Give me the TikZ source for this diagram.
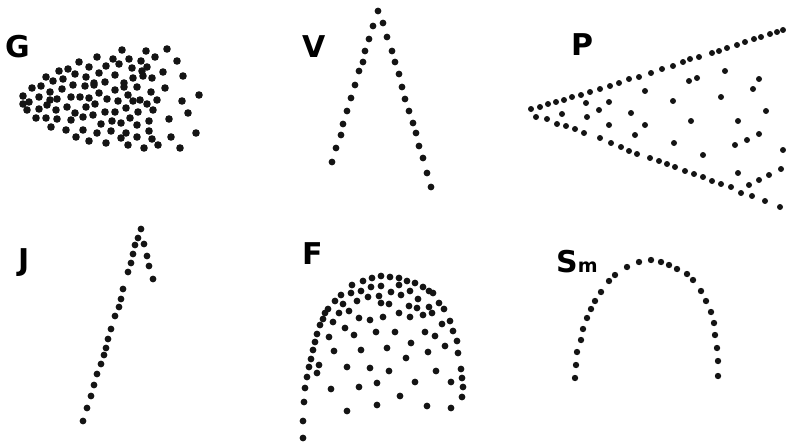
\documentclass[tikz,border=0pt]{standalone}
\usepackage{fontspec}
\setmainfont{DejaVu Sans}
\usepackage{tikz}

\begin{document}
\begin{tikzpicture}[x=1pt, y=-1pt,
    every node/.style={font=\fontsize{30}{30}\selectfont\bfseries, inner sep=0pt, anchor=base west},
    blob/.style={fill=black!92}]
    \useasboundingbox (0,0) rectangle (786,444);
    % panel labels
    \node (labG) at (5,57) {G};
    \node (labV) at (302,57) {V};
    \node (labP) at (571,56) {P};
    \node (labJ) at (18,270) {J};
    \node (labF) at (302,264) {F};
    \node (labS) at (556,272) {S{\fontsize{19}{19}\selectfont m}};
    % G: blunt cloud, denser on the left
    \foreach \x/\y in {122/50, 146/51, 167/49,
        79/62, 97/57, 113/59, 129/59, 141/61, 155/57, 177/61,
        59/71, 68/69, 75/74, 89/67, 99/73, 106/66, 119/64, 132/68, 142/71, 147/67, 163/72, 183/76,
        46/77, 53/81, 63/79, 73/85, 86/77, 94/83, 105/82, 115/75, 124/83, 133/78, 143/76, 152/78,
        32/88, 41/86, 50/92, 62/89, 85/86, 94/85, 99/93, 115/90, 124/87, 137/87, 151/92, 165/88,
        23/96, 39/97, 50/100, 57/99, 71/97, 80/97, 89/98, 107/99, 118/101, 128/95, 133/101, 140/100, 147/104, 157/100, 182/101, 199/95,
        23/104, 29/102, 27/110, 39/109, 47/105, 56/110, 67/107, 75/113, 86/107, 95/104, 105/112, 115/112, 126/108, 138/112, 153/110,
        36/118, 46/118, 57/119, 71/120, 83/117, 93/115, 101/124, 112/121, 121/123, 130/118, 137/125, 149/121, 169/119, 188/113,
        51/127, 66/130, 83/130, 97/133, 111/131, 126/133, 137/137, 149/131,
        76/137, 89/141, 106/143, 121/138, 128/145, 144/148, 158/145, 152/139, 171/137, 180/148, 196/133}
      \fill[blob] (\x,\y) circle[radius=3.8pt];
    % V: two rows of dots meeting at the top
    \foreach \x/\y in {332/162, 336/148, 341/135, 343/124, 347/111, 351/98, 355/85, 359/71, 363/62, 365/51, 369/39, 373/26, 378/11,
        383/23, 387/37, 392/51, 395/62, 399/74, 402/87, 405/99, 409/111, 413/123, 416/133, 419/146, 423/158, 427/173, 431/187}
      \fill[blob] (\x,\y) circle[radius=3.4pt];
    % P: wedge with loose dots inside
    \foreach \x/\y in {531/109, 540/107, 548/104, 556/102, 564/100, 572/97, 581/95, 590/92, 600/89, 610/86, 619/83, 629/79, 639/77,
        651/73, 662/69, 673/66, 683/62, 690/59, 699/57, 712/53, 719/51, 727/48, 737/45, 745/42, 754/39, 761/37, 770/34, 777/32, 783/30}
      \fill[blob] (\x,\y) circle[radius=3pt];
    \foreach \x/\y in {536/117, 547/119, 557/124, 566/126, 575/129, 584/133, 600/138, 611/143, 621/147, 629/151, 637/154, 650/158,
        659/161, 667/164, 675/167, 685/171, 694/174, 703/177, 712/181, 721/184, 731/187, 741/193, 752/196, 765/201, 780/207}
      \fill[blob] (\x,\y) circle[radius=3pt];
    \foreach \x/\y in {562/114, 586/103, 587/117, 599/110, 609/102, 609/125, 631/113, 635/135, 645/125, 645/91, 673/101, 674/143,
        689/81, 697/78, 691/121, 703/155, 725/71, 721/97, 738/121, 735/145, 747/140, 759/134, 753/89, 759/79, 766/111,
        738/173, 749/185, 759/180, 769/175, 781/169, 783/150}
      \fill[blob] (\x,\y) circle[radius=3pt];
    % J: long row with a short hook at the top
    \foreach \x/\y in {141/229, 138/238, 135/245, 133/254, 131/263, 128/272, 123/289, 121/299, 119/307, 115/316, 111/329, 108/339,
        106/348, 104/355, 101/364, 97/374, 94/385, 91/396, 87/408, 83/421,
        144/244, 147/256, 149/266, 153/279}
      \fill[blob] (\x,\y) circle[radius=3.4pt];
    % F: dome, crowded under the rim
    \foreach \x/\y in {303/438, 303/421, 304/402, 305/388, 307/377, 309/367, 311/359, 313/350, 315/342, 317/334, 320/325, 323/319,
        328/309, 335/301, 341/295, 352/285, 363/281, 372/278, 381/276, 390/277, 399/278, 407/281, 415/283, 423/287, 429/291,
        433/293, 439/303, 444/309, 450/321, 453/331, 457/341, 458/353, 461/369, 462/378, 463/387, 462/397}
      \fill[blob] (\x,\y) circle[radius=3.4pt];
    \foreach \x/\y in {319/365, 317/373, 331/389, 347/411, 359/387, 377/383, 377/405, 400/396, 415/382, 427/406, 451/408, 451/382,
        436/371, 389/371, 370/368, 347/367, 334/351, 361/350, 387/348, 406/358, 411/343, 428/352, 445/346, 435/336, 425/332,
        395/332, 376/332, 354/335, 329/337, 345/328, 359/318, 370/320, 383/317, 399/313, 410/317, 423/315, 432/313, 442/324,
        339/313, 349/311, 333/322, 325/313, 343/304, 357/301, 368/297, 379/296, 381/303, 389/304, 391/292, 401/295, 409/306,
        417/308, 418/299, 429/307, 351/293, 361/291, 371/287, 381/286, 399/285, 410/291}
      \fill[blob] (\x,\y) circle[radius=3.4pt];
    % Sm: single arch
    \foreach \x/\y in {575/378, 576/365, 577/352, 581/340, 583/329, 587/318, 591/309, 595/301, 601/292, 609/281, 615/275, 627/267,
        639/262, 651/260, 661/262, 669/265, 677/269, 687/274, 693/280, 701/291, 706/301, 711/312, 714/323, 715/335, 717/348,
        718/361, 718/376}
      \fill[blob] (\x,\y) circle[radius=3.2pt];
\end{tikzpicture}
\end{document}
